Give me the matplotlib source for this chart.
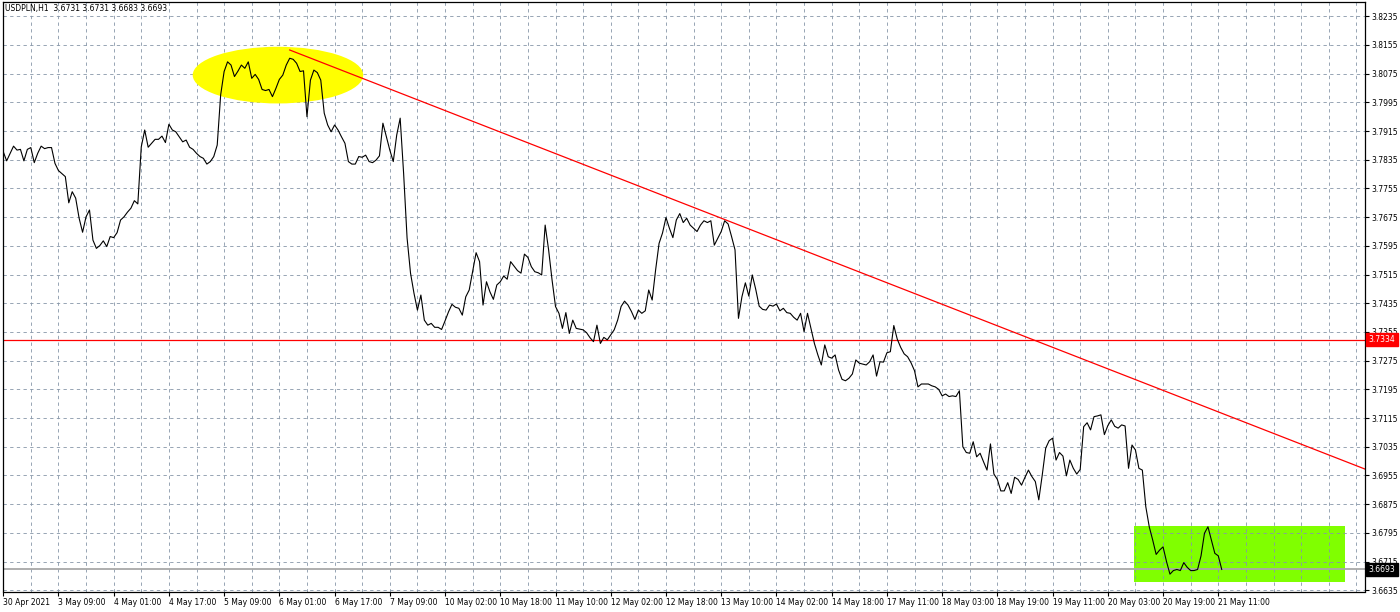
import matplotlib
matplotlib.use("Agg")
import matplotlib.pyplot as plt
from matplotlib.patches import Ellipse, Rectangle
from matplotlib.transforms import blended_transform_factory

# ------------------------------------------------------------
# USDPLN H1 closes (bar number, close)
# ------------------------------------------------------------
bar_index = [
    0, 1, 3, 4, 5, 6, 7, 8, 9, 10, 11, 12, 13, 14, 15, 16, 18, 19, 20, 21,
    22, 23, 24, 25, 26, 27, 28, 29, 30, 31, 32, 33, 34, 35, 36, 37, 38, 39, 40, 41,
    42, 43, 44, 45, 46, 47, 48, 49, 50, 51, 52, 53, 54, 55, 56, 57, 58, 59, 60, 61,
    62, 63, 64, 65, 66, 67, 68, 69, 70, 71, 72, 73, 74, 75, 76, 77, 78, 79, 80, 81,
    82, 83, 84, 85, 86, 87, 88, 89, 90, 91, 92, 93, 94, 95, 96, 97, 98, 99, 100, 101,
    102, 103, 104, 105, 106, 107, 108, 109, 110, 111, 112, 113, 114, 115, 116, 117, 118, 119, 120, 121,
    122, 123, 124, 125, 126, 127, 128, 129, 130, 131, 132, 133, 134, 135, 137, 138, 139, 140, 141, 142,
    143, 144, 145, 146, 147, 149, 150, 151, 152, 153, 154, 155, 156, 157, 158, 159, 160, 161, 162, 163,
    164, 165, 166, 168, 169, 170, 171, 172, 173, 174, 175, 176, 177, 178, 179, 180, 181, 182, 183, 184,
    185, 186, 187, 188, 189, 190, 191, 192, 193, 194, 195, 196, 197, 198, 199, 200, 201, 202, 203, 204,
    205, 206, 207, 208, 209, 210, 211, 212, 213, 214, 215, 216, 217, 218, 219, 220, 221, 222, 223, 224,
    225, 226, 227, 228, 229, 230, 231, 232, 233, 234, 235, 236, 237, 238, 239, 240, 241, 242, 243, 244,
    245, 246, 247, 248, 250, 251, 252, 253, 254, 255, 256, 257, 258, 259, 260, 261, 262, 263, 264, 265,
    266, 268, 269, 270, 271, 272, 273, 274, 275, 276, 277, 278, 279, 280, 281, 282, 283, 284, 285, 286,
    287, 288, 289, 290, 291, 292, 293, 294, 295, 296, 297, 298, 299, 300, 301, 302, 303, 304, 305, 306,
    307, 308, 309, 310, 311, 312, 313, 314, 315, 316, 317, 318, 319, 320, 321, 322, 323, 324, 325, 326,
    327, 328, 329, 330, 331, 332, 333, 334, 335, 336, 337, 338, 339, 340, 341, 342, 343, 344, 345, 346,
    347, 348, 349, 350, 351, 352, 353,
]
close = [
    3.7858, 3.7832, 3.7873, 3.7862, 3.7864, 3.7832, 3.7864, 3.7869, 3.7827, 3.7853,
    3.7873, 3.7866, 3.7869, 3.7869, 3.7825, 3.7805, 3.7788, 3.7715, 3.7746, 3.7728,
    3.7672, 3.7633, 3.7676, 3.7695, 3.7611, 3.7588, 3.7596, 3.7609, 3.7593, 3.7621,
    3.7618, 3.7632, 3.7667, 3.7676, 3.7689, 3.7700, 3.7721, 3.7712, 3.7871, 3.7918,
    3.7870, 3.7881, 3.7892, 3.7892, 3.7901, 3.7883, 3.7934, 3.7918, 3.7913, 3.7899,
    3.7885, 3.7890, 3.7870, 3.7864, 3.7853, 3.7844, 3.7839, 3.7823, 3.7830, 3.7844,
    3.7876, 3.8016, 3.8081, 3.8108, 3.8099, 3.8067, 3.8082, 3.8099, 3.8090, 3.8108,
    3.8062, 3.8073, 3.8059, 3.8031, 3.8028, 3.8031, 3.8011, 3.8034, 3.8059, 3.8071,
    3.8099, 3.8118, 3.8115, 3.8104, 3.8081, 3.8083, 3.7955, 3.8057, 3.8085, 3.8078,
    3.8057, 3.7965, 3.7932, 3.7913, 3.7932, 3.7918, 3.7899, 3.7881, 3.7830, 3.7823,
    3.7823, 3.7844, 3.7842, 3.7848, 3.7830, 3.7827, 3.7834, 3.7846, 3.7937, 3.7899,
    3.7862, 3.7830, 3.7904, 3.7951, 3.7797, 3.7617, 3.7519, 3.7463, 3.7416, 3.7458,
    3.7388, 3.7374, 3.7379, 3.7368, 3.7368, 3.7362, 3.7386, 3.7411, 3.7432, 3.7424,
    3.7421, 3.7402, 3.7453, 3.7472, 3.7576, 3.7551, 3.7430, 3.7495, 3.7467, 3.7446,
    3.7486, 3.7495, 3.7511, 3.7502, 3.7551, 3.7526, 3.7519, 3.7572, 3.7563, 3.7537,
    3.7523, 3.7520, 3.7514, 3.7653, 3.7584, 3.7500, 3.7426, 3.7407, 3.7365, 3.7409,
    3.7351, 3.7388, 3.7365, 3.7361, 3.7353, 3.7339, 3.7328, 3.7374, 3.7323, 3.7340,
    3.7333, 3.7347, 3.7361, 3.7388, 3.7426, 3.7441, 3.7430, 3.7412, 3.7390, 3.7416,
    3.7407, 3.7414, 3.7472, 3.7444, 3.7528, 3.7602, 3.7631, 3.7674, 3.7644, 3.7618,
    3.7667, 3.7685, 3.7660, 3.7672, 3.7653, 3.7644, 3.7635, 3.7653, 3.7665, 3.7660,
    3.7665, 3.7597, 3.7616, 3.7635, 3.7665, 3.7656, 3.7621, 3.7584, 3.7393, 3.7453,
    3.7492, 3.7455, 3.7514, 3.7474, 3.7427, 3.7418, 3.7416, 3.7430, 3.7427, 3.7433,
    3.7414, 3.7421, 3.7409, 3.7407, 3.7396, 3.7388, 3.7407, 3.7356, 3.7407, 3.7365,
    3.7323, 3.7291, 3.7263, 3.7319, 3.7286, 3.7282, 3.7291, 3.7249, 3.7223, 3.7219,
    3.7226, 3.7238, 3.7277, 3.7268, 3.7263, 3.7272, 3.7291, 3.7232, 3.7272, 3.7271,
    3.7297, 3.7300, 3.7373, 3.7335, 3.7312, 3.7294, 3.7286, 3.7269, 3.7247, 3.7202,
    3.7210, 3.7210, 3.7205, 3.7202, 3.7195, 3.7177, 3.7182, 3.7175, 3.7177, 3.7175,
    3.7191, 3.7035, 3.7019, 3.7017, 3.7049, 3.7007, 3.7017, 3.6993, 3.6970, 3.7043,
    3.6959, 3.6944, 3.6912, 3.6912, 3.6935, 3.6905, 3.6950, 3.6944, 3.6928, 3.6950,
    3.6970, 3.6952, 3.6938, 3.6887, 3.6956, 3.7031, 3.7052, 3.7059, 3.6998, 3.7019,
    3.7009, 3.6954, 3.6998, 3.6975, 3.6959, 3.6972, 3.7091, 3.7102, 3.7082, 3.7119,
    3.7121, 3.7124, 3.7069, 3.7094, 3.7110, 3.7092, 3.7087, 3.7096, 3.7093, 3.6975,
    3.7040, 3.7026, 3.6975, 3.6970, 3.6868, 3.6812, 3.6775, 3.6735, 3.6747, 3.6756,
    3.6715, 3.6680, 3.6690, 3.6693, 3.6690, 3.6712, 3.6699, 3.6690, 3.6690, 3.6693,
    3.6731, 3.6794, 3.6812, 3.6775, 3.6738, 3.6731, 3.6693,
]

# time axis labels, one every 16 bars
time_labels = [
    "30 Apr 2021", "3 May 09:00", "4 May 01:00", "4 May 17:00", "5 May 09:00",
    "6 May 01:00", "6 May 17:00", "7 May 09:00", "10 May 02:00", "10 May 18:00",
    "11 May 10:00", "12 May 02:00", "12 May 18:00", "13 May 10:00", "14 May 02:00",
    "14 May 18:00", "17 May 11:00", "18 May 03:00", "18 May 19:00", "19 May 11:00",
    "20 May 03:00", "20 May 19:00", "21 May 11:00",
]
label_step = 16

# price scale
price_levels = [3.6635, 3.6715, 3.6795, 3.6875, 3.6955, 3.7035, 3.7115, 3.7195,
                3.7275, 3.7355, 3.7435, 3.7515, 3.7595, 3.7675, 3.7755, 3.7835,
                3.7915, 3.7995, 3.8075, 3.8155, 3.8235]

# drawn objects
support_level = 3.7334
last_ohlc = [3.6731, 3.6731, 3.6683, 3.6693]
trend_bars = [83, 387]
trend_prices = [3.8141, 3.7001]
top_zone = (79.6, 3.8071, 49.4, 0.0158)      # ellipse centre bar, price, width, height
bottom_zone = (327.6, 3.6657, 61.1, 0.0158)  # rectangle left bar, low, width, height

X_MIN, X_MAX = -0.2, 394.5
Y_MIN, Y_MAX = 3.66316, 3.82748

GRID = "#8796a8"
FONT = "DejaVu Sans"
FS = 5.5

plt.rcParams["font.family"] = [FONT]

fig = plt.figure(figsize=(14, 6.12), dpi=100)
W, H = 1400, 612
ax = fig.add_axes([2.5 / W, 1 - 591.5 / H, (1365 - 2.5) / W, (591.5 - 2) / H])
ax.set_xlim(X_MIN, X_MAX)
ax.set_ylim(Y_MIN, Y_MAX)
ax.set_axisbelow(True)

# grid: horizontal on price levels, vertical every 8 bars
major_x = [i * label_step for i in range(len(time_labels))]
minor_x = [b for b in range(8, int(X_MAX), 8) if b not in major_x]
ax.set_xticks(major_x)
ax.set_xticklabels(time_labels)
ax.set_xticks(minor_x, minor=True)
ax.set_yticks(price_levels)
ax.set_yticklabels([f"{p:.4f}" for p in price_levels])
ax.yaxis.tick_right()
ax.grid(True, which="both", color=GRID, linewidth=0.6, linestyle=(0, (4, 4)))

ax.tick_params(axis="x", which="major", direction="out", length=3, width=0.8,
               labelsize=FS, pad=1.5)
ax.tick_params(axis="x", which="minor", length=0)
ax.tick_params(axis="y", direction="out", length=3, width=0.8, labelsize=FS, pad=1.5)
for lbl in ax.get_xticklabels():
    lbl.set_horizontalalignment("left")
for sp in ax.spines.values():
    sp.set_color("black")
    sp.set_linewidth(0.9)

# marked zones
cx, cy, ew, eh = top_zone
ax.add_patch(Ellipse((cx, cy), ew, eh, facecolor="#ffff00", edgecolor="none", zorder=1))
rx, ry, rw, rh = bottom_zone
ax.add_patch(Rectangle((rx, ry), rw, rh, facecolor="#80ff00", edgecolor="none", zorder=0.4))

# support line and trend line
ax.axhline(support_level, color="#ff0000", linewidth=0.9, zorder=2)
slope = (trend_prices[1] - trend_prices[0]) / (trend_bars[1] - trend_bars[0])
ax.plot([trend_bars[0], X_MAX],
        [trend_prices[0], trend_prices[0] + slope * (X_MAX - trend_bars[0])],
        color="#ff0000", linewidth=0.9, zorder=2, clip_on=True)

# current price line
ax.axhline(last_ohlc[3], color="#a8a8a8", linewidth=1.3, zorder=2)

# price line
ax.plot(bar_index, close, color="black", linewidth=0.8, zorder=3)

# price tags on the right scale
tr = blended_transform_factory(ax.transAxes, ax.transData)
for price, face in [(support_level, "#ff0000"), (last_ohlc[3], "black")]:
    ax.text(1.0 + 3.5 / 1362.5, price, f"{price:.4f}", transform=tr, fontsize=FS,
            color="white", va="center", ha="left", zorder=5, clip_on=False,
            bbox=dict(boxstyle="square,pad=0.3", facecolor=face, edgecolor=face))

# header
fig.text(5 / W, 1 - 8.5 / H,
         "USDPLN,H1  " + " ".join(f"{v:.4f}" for v in last_ohlc),
         fontsize=FS, color="black", va="center", ha="left")

fig.savefig("out.png", dpi=100, facecolor="white")
